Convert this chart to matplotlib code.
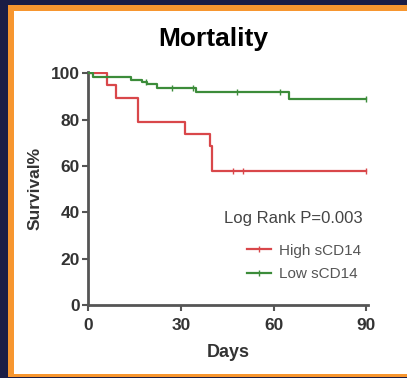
import numpy as np
import matplotlib.pyplot as plt
from matplotlib.patches import Rectangle
from matplotlib.lines import Line2D

plt.rcParams['font.family'] = ['Liberation Sans', 'DejaVu Sans']

# Kaplan-Meier steps (day, survival %)
high_days = [0, 6, 9, 16, 31.5, 39.3, 40.1, 90]
high_surv = [100, 94.7, 89.5, 78.9, 73.7, 68.4, 57.9, 57.9]
high_cens_days = [47, 50, 90]

low_days = [0, 1.7, 14, 17.4, 19, 22.3, 35, 65, 90]
low_surv = [100, 98.3, 97.2, 96.2, 95.3, 93.5, 91.7, 88.7, 88.7]
low_cens_days = [18.6, 27.3, 34, 48, 62, 90]

labels = ['High sCD14', 'Low sCD14']
x_ticks = [0, 30, 60, 90]
y_ticks = [0, 20, 40, 60, 80, 100]

red = '#d9474a'
green = '#3c8c3a'
dark = '#333333'

W, H = 407, 378
fig = plt.figure(figsize=(W / 100, H / 100), dpi=100)
fig.patch.set_facecolor('#1b1d45')
# orange frame and white panel
fig.patches.append(Rectangle((8 / W, 1 - 377 / H), 1, (377 - 5) / H, transform=fig.transFigure,
                             facecolor='#f7962f', edgecolor='none', zorder=-10))
fig.patches.append(Rectangle((14 / W, 1 - 374 / H), 1, (374 - 11) / H, transform=fig.transFigure,
                             facecolor='white', edgecolor='none', zorder=-9))

ax = fig.add_axes([88 / W, 1 - 305 / H, 280 / W, 233 / H])
ax.set_facecolor('none')


def surv_at(days, surv, d):
    i = np.searchsorted(days, d, side='right') - 1
    return surv[i]


ax.step(high_days, high_surv, where='post', color=red, lw=1.6, zorder=3)
ax.step(low_days, low_surv, where='post', color=green, lw=1.6, zorder=3)
ax.plot(high_cens_days, [surv_at(high_days, high_surv, d) for d in high_cens_days], ls='none',
        marker='|', ms=4, mew=1.0, color=red, zorder=3)
ax.plot(low_cens_days, [surv_at(low_days, low_surv, d) for d in low_cens_days], ls='none',
        marker='|', ms=4, mew=1.0, color=green, zorder=3)

ax.set_xlim(0, 90.5)
ax.set_ylim(0, 100.5)
ax.set_xticks(x_ticks)
ax.set_yticks(y_ticks)
for s in ['top', 'right']:
    ax.spines[s].set_visible(False)
for s in ['left', 'bottom']:
    ax.spines[s].set_color('#555555')
    ax.spines[s].set_linewidth(2)
ax.tick_params(colors='#555555', width=1.5, length=4, direction='out', labelcolor=dark,
               labelsize=12.5, pad=2)
ax.tick_params(axis='x', pad=5)
for lab in ax.get_xticklabels() + ax.get_yticklabels():
    lab.set_fontweight('bold')

ax.set_xlabel('Days', fontsize=13, fontweight='bold', color=dark, labelpad=8)
ax.set_ylabel('Survival%', fontsize=12.5, fontweight='bold', color=dark, labelpad=6)

fig.text(213 / W, 1 - 39 / H, 'Mortality', fontsize=19, fontweight='bold', ha='center', va='center',
         color='black')

ax.text(293 / W, 1 - 218 / H, 'Log Rank P=0.003', transform=fig.transFigure, fontsize=12,
        ha='center', va='center', color='#444444')
handles = [Line2D([], [], color=red, lw=1.6, marker='|', ms=4, mew=1.0),
           Line2D([], [], color=green, lw=1.6, marker='|', ms=4, mew=1.0)]
leg = ax.legend(handles, labels, loc='upper left', bbox_to_anchor=(233 / W, 1 - 230 / H),
                bbox_transform=fig.transFigure, frameon=False, fontsize=11, handlelength=1.6,
                handletextpad=0.5, labelspacing=0.6)
for t in leg.get_texts():
    t.set_color('#555555')

fig.savefig('out.png', dpi=100, facecolor=fig.get_facecolor())
